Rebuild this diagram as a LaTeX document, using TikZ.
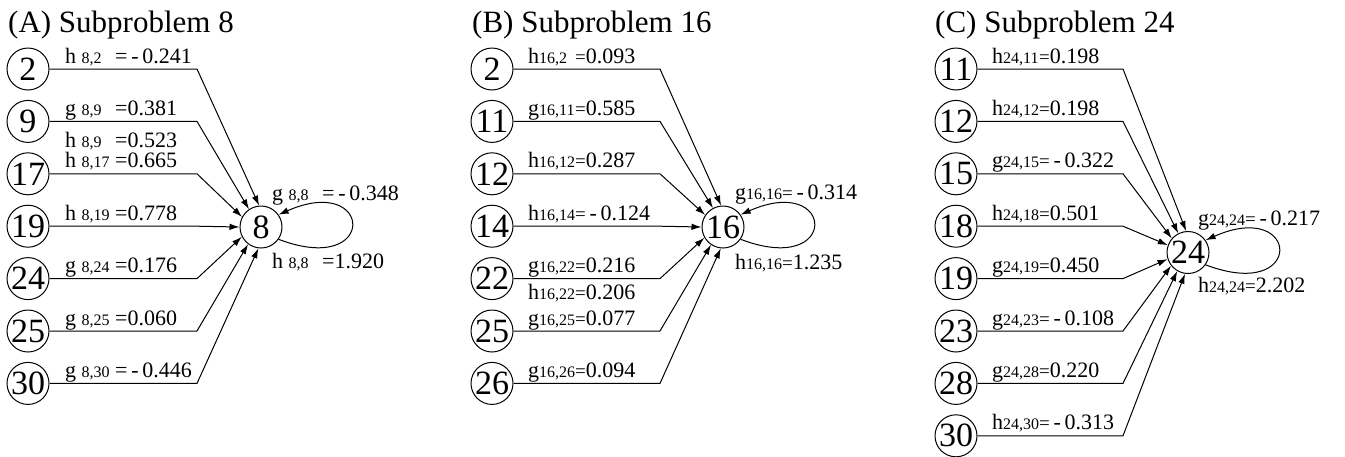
\documentclass[tikz,border=0pt]{standalone}
\usepackage{fontspec}
\setmainfont{Liberation Serif}
\usetikzlibrary{arrows.meta,calc}
\newcommand{\subf}{\fontsize{16}{16}\selectfont}
\newcommand{\eqf}{\fontsize{19}{19}\selectfont}
\newcommand{\mneg}{\,-\,}
\newcommand{\lA}[3]{#1\ {\subf\rlap{#2}\phantom{8,17}}\ =#3}
\newcommand{\lB}[3]{#1{\subf\rlap{#2}\phantom{16,22}}{\eqf=}#3}
\tikzset{
  circ/.style={circle, draw, line width=1pt, minimum size=42pt, inner sep=0pt, font=\fontsize{34}{34}\selectfont},
  edge/.style={line width=1pt, -{Latex[length=10pt,width=6.5pt]}},
  lbl/.style={anchor=base west, inner sep=0pt, font=\fontsize{22}{22}\selectfont},
  ttl/.style={anchor=base west, inner sep=0pt, font=\fontsize{31}{31}\selectfont}
}
\begin{document}
\begin{tikzpicture}[x=1pt,y=-1pt]
\useasboundingbox (0,0) rectangle (1345,456);

% ---------------- Panel A
\node[ttl] (ttlA) at (8,32) {(A) Subproblem 8};
\node[circ] (tA) at (261,227) {8};
\coordinate (bA) at (197,0);
\foreach \n/\y/\a/\l in {
  2/69/95/{\lA{h}{8,2}{\mneg0.241}},
  9/121.4/124/{\lA{g}{8,9}{0.381}},
  17/173.8/152/{\lA{h}{8,17}{0.665}},
  19/226.2/180/{\lA{h}{8,19}{0.778}},
  24/278.6/207/{\lA{g}{8,24}{0.176}},
  25/331/233/{\lA{g}{8,25}{0.060}},
  30/383.4/263/{\lA{g}{8,30}{\mneg0.446}}}{
  \node[circ] (A\n) at (28,\y) {\n};
  \draw[edge] (A\n) -- (A\n -| bA) -- (tA.\a);
  \node[lbl] (lA\n) at (65,\y-6) {\l};
}
\node[lbl] (lA9b) at (65,147) {\lA{h}{8,9}{0.523}};
\draw[edge] (tA.-35) .. controls +(100,38) and +(95,-42) .. (tA.35);
\node[lbl] (lAgg) at (272,200) {\lA{g}{8,8}{\mneg0.348}};
\node[lbl] (lAhh) at (272,268) {\lA{h}{8,8}{1.920}};

% ---------------- Panel B
\node[ttl] (ttlB) at (472,32) {(B) Subproblem 16};
\node[circ] (tB) at (723,227) {16};
\coordinate (bB) at (660,0);
\foreach \n/\y/\a/\l in {
  2/69/95/{\lB{h}{16,2}{0.093}},
  11/121.4/118/{\lB{g}{16,11}{0.585}},
  12/173.8/146/{\lB{h}{16,12}{0.287}},
  14/226.2/180/{\lB{h}{16,14}{\mneg0.124}},
  22/278.6/210/{\lB{g}{16,22}{0.216}},
  25/331/236/{\lB{g}{16,25}{0.077}},
  26/383.4/264/{\lB{g}{16,26}{0.094}}}{
  \node[circ] (B\n) at (492,\y) {\n};
  \draw[edge] (B\n) -- (B\n -| bB) -- (tB.\a);
  \node[lbl] (lB\n) at (528,\y-6) {\l};
}
\node[lbl] (lB22b) at (528,299) {\lB{h}{16,22}{0.206}};
\draw[edge] (tB.-35) .. controls +(100,38) and +(95,-42) .. (tB.35);
\node[lbl] (lBgg) at (735,199) {\lB{g}{16,16}{\mneg0.314}};
\node[lbl] (lBhh) at (735,269) {\lB{h}{16,16}{1.235}};

% ---------------- Panel C
\node[ttl] (ttlC) at (935,32) {(C) Subproblem 24};
\node[circ] (tC) at (1188,252.5) {24};
\coordinate (bC) at (1123,0);
\foreach \n/\y/\a/\l in {
  11/69/95/{\lB{h}{24,11}{0.198}},
  12/121.4/117/{\lB{h}{24,12}{0.198}},
  15/173.8/139/{\lB{g}{24,15}{\mneg0.322}},
  18/226.2/160/{\lB{h}{24,18}{0.501}},
  19/278.6/198/{\lB{g}{24,19}{0.450}},
  23/331/218/{\lB{g}{24,23}{\mneg0.108}},
  28/383.4/240/{\lB{g}{24,28}{0.220}},
  30/435.8/262/{\lB{h}{24,30}{\mneg0.313}}}{
  \node[circ] (C\n) at (956,\y) {\n};
  \draw[edge] (C\n) -- (C\n -| bC) -- (tC.\a);
  \node[lbl] (lC\n) at (992,\y-6) {\l};
}
\draw[edge] (tC.-35) .. controls +(100,38) and +(95,-42) .. (tC.35);
\node[lbl] (lCgg) at (1198,225) {\lB{g}{24,24}{\mneg0.217}};
\node[lbl] (lChh) at (1198,292) {\lB{h}{24,24}{2.202}};
\end{tikzpicture}
\end{document}
